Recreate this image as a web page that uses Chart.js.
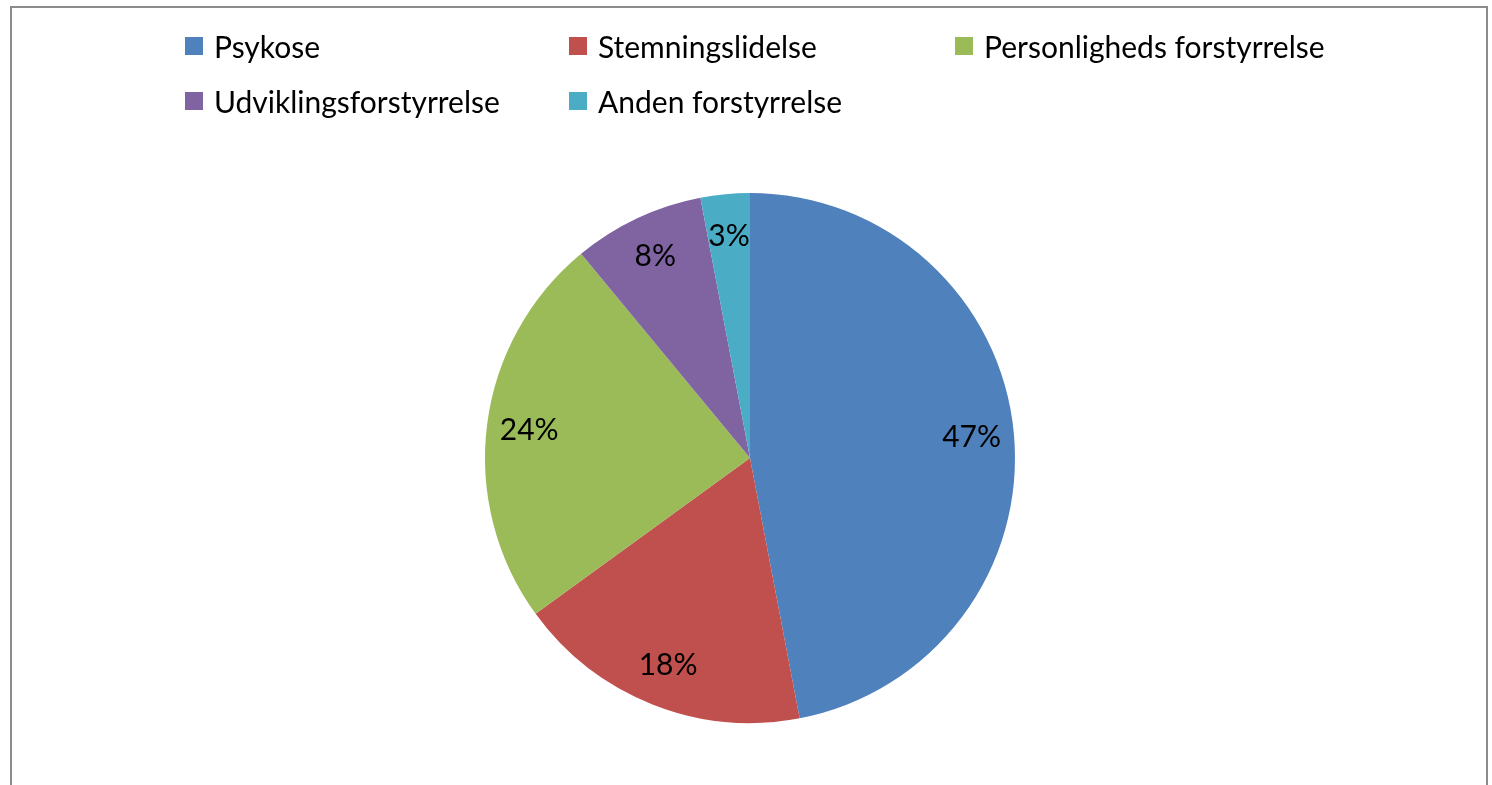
<!DOCTYPE html>
<html>
<head>
<meta charset="utf-8">
<script src="https://cdn.jsdelivr.net/npm/chart.js@4/dist/chart.umd.min.js"></script>
<style>
  html, body { margin: 0; padding: 0; background: #fff; overflow: hidden; }
  body { width: 1492px; height: 785px; position: relative; font-family: Lato, "Open Sans", sans-serif; }
  #frame { position: absolute; left: 10px; top: 6px; width: 1478px; height: 800px; border: 2px solid #8c8c8c; box-sizing: border-box; }
  #legend { position: absolute; left: 185px; top: 29px; display: grid; grid-template-columns: 384px 386px 420px; row-gap: 21px; }
  .item { display: flex; align-items: center; height: 34px; font-size: 30px; color: #000; white-space: nowrap; }
  .box { width: 18px; height: 18px; margin-right: 11px; flex: none; }
  #wrap { position: absolute; left: 0; top: 0; width: 1492px; height: 785px; }
</style>
</head>
<body>
<div id="frame"></div>
<div id="wrap"><canvas id="c" width="1492" height="785"></canvas></div>
<div id="legend"></div>
<script>
const categories = ["Psykose", "Stemningslidelse", "Personligheds forstyrrelse", "Udviklingsforstyrrelse", "Anden forstyrrelse"];
const values = [47, 18, 24, 8, 3];
const colors = ["#4F81BD", "#C0504D", "#9BBB59", "#8064A2", "#4BACC6"];

const legend = document.getElementById('legend');
categories.forEach((name, i) => {
  const d = document.createElement('div');
  d.className = 'item';
  const b = document.createElement('span');
  b.className = 'box';
  b.style.background = colors[i];
  const t = document.createElement('span');
  t.textContent = name;
  d.appendChild(b); d.appendChild(t);
  legend.appendChild(d);
});

const pctLabels = {
  id: 'pctLabels',
  afterDatasetsDraw(chart) {
    const ctx = chart.ctx;
    const meta = chart.getDatasetMeta(0);
    const total = values.reduce((a, b) => a + b, 0);
    ctx.save();
    ctx.font = '30px Lato, "Open Sans", sans-serif';
    ctx.fillStyle = '#000';
    ctx.textAlign = 'center';
    ctx.textBaseline = 'middle';
    meta.data.forEach((arc, i) => {
      const p = arc.getProps(['x', 'y', 'startAngle', 'endAngle', 'outerRadius']);
      const mid = (p.startAngle + p.endAngle) / 2;
      const r = p.outerRadius * 0.84;
      const x = p.x + Math.cos(mid) * r;
      const y = p.y + Math.sin(mid) * r;
      ctx.fillText(Math.round(values[i] / total * 100) + '%', x, y);
    });
    ctx.restore();
  }
};

new Chart(document.getElementById('c'), {
  type: 'pie',
  data: {
    labels: categories,
    datasets: [{ data: values, backgroundColor: colors, borderWidth: 0, hoverOffset: 0 }]
  },
  options: {
    responsive: false,
    animation: false,
    events: [],
    layout: { padding: { top: 193, bottom: 62, left: 485, right: 477 } },
    plugins: { legend: { display: false }, tooltip: { enabled: false } }
  },
  plugins: [pctLabels]
});
</script>
</body>
</html>
